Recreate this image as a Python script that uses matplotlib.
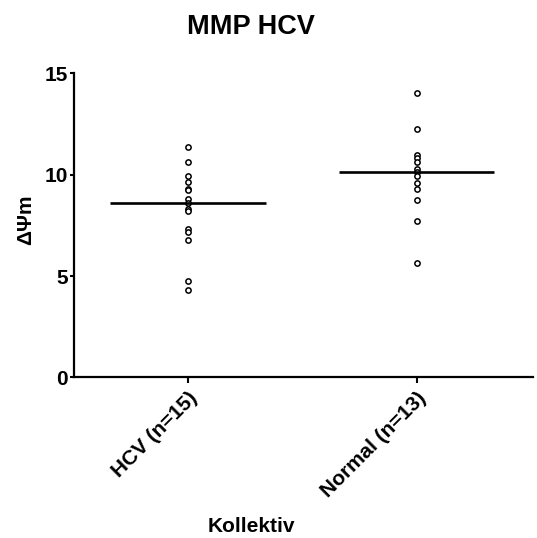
import numpy as np
import matplotlib
matplotlib.use("Agg")
import matplotlib.pyplot as plt

plt.rcParams['font.family'] = ['Liberation Sans', 'DejaVu Sans']
plt.rcParams['font.weight'] = 'bold'

# datos
grupos = ["HCV (n=15)", "Normal (n=13)"]
hcv = [11.35, 10.61, 9.95, 9.65, 9.31, 9.23, 8.82, 8.62, 8.32, 8.21,
       7.34, 7.17, 6.79, 4.74, 4.33]
normal = [14.01, 12.27, 10.99, 10.82, 10.61, 10.30, 10.15, 9.95, 9.60,
          9.32, 8.77, 7.73, 5.64]
series = [hcv, normal]
y_ticks = [0, 5, 10, 15]

fig = plt.figure(figsize=(5.37, 5.38), dpi=100)
ax = fig.add_axes([0.137, 0.2985, 0.856, 0.565])

for i, vals in enumerate(series):
    ax.plot([i] * len(vals), vals, 'o', ms=3.8, mfc='white', mec='black',
            mew=1.1, ls='none', zorder=3)
    med = np.median(vals)
    ax.hlines(med, i - 0.34, i + 0.34, color='black', lw=1.9, zorder=4)

ax.set_xlim(-0.5, 1.51)
ax.set_ylim(0, 15)
ax.set_yticks(y_ticks)
ax.set_yticklabels([str(t) for t in y_ticks], fontsize=15, fontweight='bold')
ax.set_xticks([0, 1])
ax.set_xticklabels(grupos, fontsize=15, fontweight='bold', rotation=45,
                   ha='right', va='top', rotation_mode='anchor')

for s in ['top', 'right']:
    ax.spines[s].set_visible(False)
for s in ['left', 'bottom']:
    ax.spines[s].set_linewidth(1.6)
ax.tick_params(axis='y', length=3, width=1.5, pad=1)
ax.tick_params(axis='x', length=4, width=1.5, pad=4)

fig.text(251 / 537, 1 - 27 / 538, "MMP HCV", fontsize=19.5, fontweight='bold',
         ha='center', va='center')
fig.text(26 / 537, 1 - 220 / 538, "ΔΨm", fontsize=15, fontweight='bold',
         ha='center', va='center', rotation=90)
fig.text(251 / 537, 1 - 526 / 538, "Kollektiv", fontsize=15, fontweight='bold',
         ha='center', va='center')

plt.savefig("out.png", dpi=100)
